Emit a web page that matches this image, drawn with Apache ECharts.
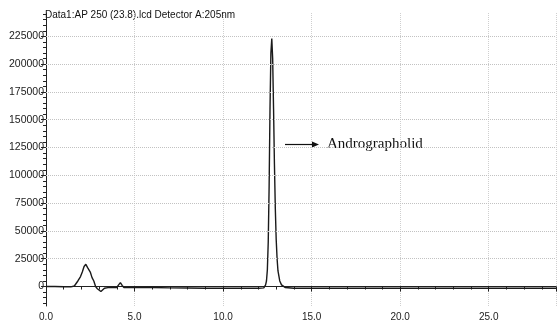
<!DOCTYPE html>
<html>
<head>
<meta charset="utf-8">
<style>html,body{margin:0;padding:0;background:#fff;}#c{width:558px;height:324px;}</style>
<script src="https://cdn.jsdelivr.net/npm/echarts@6/dist/echarts.min.js"></script>
</head>
<body>
<div id="c"></div>
<script>
var times = [0, 0.5, 1.0, 1.4, 1.6, 1.8, 1.95, 2.05, 2.15, 2.25, 2.35, 2.5, 2.6, 2.7, 2.8, 2.9, 3.0, 3.1, 3.2, 3.3, 3.5, 3.8, 4.0, 4.1, 4.2, 4.3, 4.4, 4.6, 5.0, 6.0, 7.0, 8.0, 9.0, 10.0, 11.0, 12.0, 12.3, 12.4, 12.45, 12.5, 12.55, 12.6, 12.65, 12.7, 12.75, 12.8, 12.85, 12.9, 12.95, 13.0, 13.05, 13.1, 13.2, 13.3, 13.4, 13.5, 14, 16, 18, 20, 22, 24, 26, 28, 28.8];
var signal = [0, 0, -200, -300, 500, 5000, 9000, 13000, 18000, 20000, 17000, 13000, 8000, 5000, 0, -2000, -3000, -4500, -3000, -1500, -1000, -1000, -800, 1500, 3500, 1000, -800, -1000, -1000, -800, -1200, -1300, -1500, -1500, -1500, -1600, -1200, 1500, 5000, 15000, 40000, 90000, 160000, 210000, 223000, 205000, 160000, 110000, 70000, 42000, 25000, 14000, 5000, 1500, 0, -800, -1500, -1500, -1600, -1500, -1600, -1500, -1600, -1500, -1500];
var yMajor = [0, 25000, 50000, 75000, 100000, 125000, 150000, 175000, 200000, 225000];
var yMinor = [-15000, -10000, -5000, 5000, 10000, 15000, 20000, 30000, 35000, 40000, 45000, 55000, 60000, 65000, 70000, 80000, 85000, 90000, 95000, 105000, 110000, 115000, 120000, 130000, 135000, 140000, 145000, 155000, 160000, 165000, 170000, 180000, 185000, 190000, 195000, 205000, 210000, 215000, 220000, 230000, 235000, 240000, 245000];
var titleText = 'Data1:AP 250 (23.8).lcd Detector A:205nm';
var peakLabel = 'Andrographolid';

var data = times.map(function (t, i) { return [t, signal[i]]; });
var chart = echarts.init(document.getElementById('c'), null, {renderer: 'canvas'});
var fnt = 'Liberation Sans, Arial, sans-serif';
chart.setOption({
  animation: false,
  grid: {left: 46, right: 2, top: 13, bottom: 18},
  xAxis: {
    type: 'value', min: 0, max: 28.8, interval: 5,
    axisLine: {lineStyle: {color: '#222', width: 1}},
    axisTick: {show: true, length: 5, lineStyle: {color: '#222'}},
    minorTick: {show: true, splitNumber: 5, length: 3, lineStyle: {color: '#222'}},
    axisLabel: {color: '#222', fontSize: 10, fontFamily: fnt, margin: 6, showMaxLabel: false,
      formatter: function (v) { return v.toFixed(1); }},
    splitLine: {show: true, lineStyle: {color: '#cfcfcf', type: 'dotted'}}
  },
  yAxis: [{
    type: 'value', min: -17500, max: 246000,
    axisLine: {show: true, lineStyle: {color: '#222', width: 1}},
    axisTick: {show: true, length: 5, customValues: yMajor, lineStyle: {color: '#222'}},
    axisLabel: {color: '#222', fontSize: 10.5, fontFamily: fnt, margin: 2, customValues: yMajor,
      formatter: function (v) { return String(v); }},
    splitLine: {show: false}
  }, {
    type: 'value', min: -17500, max: 246000, position: 'left',
    axisLine: {show: false},
    axisTick: {show: true, length: 3, customValues: yMinor, lineStyle: {color: '#222'}},
    axisLabel: {show: false, customValues: yMinor},
    splitLine: {show: false}
  }],
  series: [{
    type: 'line', data: data, showSymbol: false, symbol: 'none', z: 3,
    lineStyle: {color: '#1a1a1a', width: 1.4},
    markLine: {
      silent: true, symbol: 'none', label: {show: false}, animation: false,
      lineStyle: {color: '#c2c2c2', type: 'dotted', width: 1},
      data: yMajor.slice(1).map(function (v) { return {yAxis: v}; })
    }
  }],
  graphic: [
    {type: 'text', left: 45, top: 10, style: {text: titleText, fill: '#111', font: '10px ' + fnt}},
    {type: 'line', shape: {x1: 285, y1: 144.5, x2: 314, y2: 144.5}, style: {stroke: '#111', lineWidth: 1.2}},
    {type: 'polygon', shape: {points: [[319, 144.5], [312, 141.5], [312, 147.5]]}, style: {fill: '#111'}},
    {type: 'text', left: 327, top: 137, style: {text: peakLabel, fill: '#111', font: '15px Liberation Serif, Times New Roman, serif'}}
  ]
});
</script>
</body>
</html>
